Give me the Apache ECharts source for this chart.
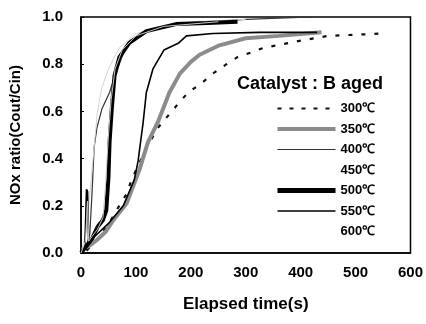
<!DOCTYPE html>
<html>
<head>
<meta charset="utf-8">
<script src="https://cdn.jsdelivr.net/npm/echarts@6/dist/echarts.min.js"></script>
<style>
  html, body { margin: 0; padding: 0; background: #fff; }
  #chart { width: 426px; height: 324px; }
</style>
</head>
<body>
<div id="chart"></div>
<script>
// elapsed time (s) / NOx ratio
const t300 = [10, 30, 50, 72, 83, 92, 110, 125, 140, 158, 176, 195, 220, 240, 265, 285, 310, 333, 357, 400, 450, 500, 550]
const v300 = [0.01, 0.06, 0.12, 0.21, 0.25, 0.31, 0.40, 0.47, 0.53, 0.58, 0.63, 0.68, 0.72, 0.76, 0.80, 0.83, 0.85, 0.87, 0.88, 0.90, 0.92, 0.925, 0.93]

const t350 = [5, 15, 29, 45, 59, 83, 106, 122, 141, 161, 180, 200, 216, 252, 300, 360, 438]
const v350 = [0.02, 0.03, 0.055, 0.09, 0.14, 0.21, 0.35, 0.47, 0.56, 0.68, 0.76, 0.81, 0.84, 0.88, 0.91, 0.92, 0.935]

const t400 = [0, 10, 16, 20, 24, 29, 38, 52, 60, 68, 78, 90, 110, 150, 200, 300, 420]
const v400 = [0, 0.03, 0.08, 0.25, 0.45, 0.53, 0.61, 0.68, 0.74, 0.79, 0.85, 0.90, 0.93, 0.96, 0.975, 0.99, 1.0]

const t450 = [0, 10, 20, 30, 38, 50, 70, 100, 150, 200, 300]
const v450 = [0, 0.1, 0.35, 0.6, 0.7, 0.78, 0.87, 0.93, 0.96, 0.98, 0.99]

const t500 = [0, 10, 20, 30, 40, 46, 50, 52, 56, 61, 70, 88, 119, 173, 230, 285]
const v500 = [0, 0.03, 0.06, 0.11, 0.14, 0.18, 0.32, 0.47, 0.61, 0.75, 0.83, 0.89, 0.94, 0.97, 0.975, 0.98]

const t550 = [0, 7, 10, 12, 14, 18, 25, 52, 77, 97, 104, 113, 119, 131, 151, 178, 192, 240, 324, 430]
const v550 = [0, 0.02, 0.27, 0.26, 0.04, 0.05, 0.07, 0.13, 0.2, 0.31, 0.39, 0.55, 0.68, 0.78, 0.86, 0.89, 0.92, 0.93, 0.935, 0.935]

const t600 = [0, 8, 12, 14, 20, 30, 40, 45, 50, 55, 62, 75, 100, 150, 250]
const v600 = [0, 0.05, 0.22, 0.05, 0.07, 0.1, 0.15, 0.3, 0.5, 0.65, 0.78, 0.86, 0.92, 0.96, 0.98]

const seriesNames = ['300℃', '350℃', '400℃', '450℃', '500℃', '550℃', '600℃']
const xTicks = [0, 100, 200, 300, 400, 500, 600]
const yTicks = [0.0, 0.2, 0.4, 0.6, 0.8, 1.0]

const font = 'Liberation Sans, Arial, sans-serif'

// legend line look, one per series (450 and 600 show no line in the legend)
const legendLines = [
  { color: '#111', width: 2, type: [4, 8] },
  { color: '#8c8c8c', width: 4 },
  { color: '#333', width: 1 },
  { opacity: 0 },
  { color: '#000', width: 5 },
  { color: '#000', width: 1.5 },
  { opacity: 0 }
]

function pairs(ts, vs) {
  return ts.map((t, i) => [t, vs[i]])
}

const chart = echarts.init(document.getElementById('chart'))

chart.setOption({
  animation: false,
  grid: {
    left: 80,
    right: 11,
    top: 17,
    bottom: 71,
    show: true,
    borderColor: '#000',
    borderWidth: 1.5
  },
  title: {
    text: 'Catalyst : B aged',
    left: 232,
    top: 70,
    textStyle: { fontFamily: font, fontWeight: 'bold', fontSize: 18, color: '#000' }
  },
  legend: {
    orient: 'vertical',
    left: 270,
    top: 97,
    itemWidth: 58,
    itemHeight: 13,
    itemGap: 7.5,
    itemStyle: { opacity: 0 },
    data: seriesNames.map((n, i) => ({ name: n, lineStyle: legendLines[i] })),
    textStyle: { fontFamily: font, fontWeight: 'bold', fontSize: 13, color: '#000' }
  },
  xAxis: {
    type: 'value',
    min: 0,
    max: 600,
    interval: 100,
    name: 'Elapsed time(s)',
    nameLocation: 'middle',
    nameGap: 43,
    nameTextStyle: { fontFamily: font, fontWeight: 'bold', fontSize: 17, color: '#000' },
    axisLine: { lineStyle: { color: '#000', width: 1.5 } },
    axisTick: { show: false },
    splitLine: { show: false },
    axisLabel: {
      margin: 12,
      fontFamily: font, fontWeight: 'bold', fontSize: 15, color: '#000',
      formatter: v => xTicks.includes(v) ? String(v) : ''
    }
  },
  yAxis: {
    type: 'value',
    min: 0,
    max: 1,
    interval: 0.2,
    name: 'NOx ratio(Cout/Cin)',
    nameLocation: 'middle',
    nameGap: 58,
    nameTextStyle: { fontFamily: font, fontWeight: 'bold', fontSize: 15, color: '#000' },
    axisLine: { lineStyle: { color: '#000', width: 1.5 } },
    axisTick: { inside: true, length: 3, lineStyle: { color: '#000' } },
    splitLine: { show: false },
    axisLabel: {
      margin: 18,
      fontFamily: font, fontWeight: 'bold', fontSize: 15, color: '#000',
      formatter: v => yTicks.some(y => Math.abs(y - v) < 1e-6) ? v.toFixed(1) : ''
    }
  },
  series: [
    {
      name: seriesNames[0], type: 'line', symbol: 'none',
      data: pairs(t300, v300),
      lineStyle: { color: '#111', width: 2.2, type: [4, 9] },
      itemStyle: { color: '#111' }
    },
    {
      name: seriesNames[1], type: 'line', symbol: 'none',
      data: pairs(t350, v350),
      lineStyle: { color: '#8c8c8c', width: 4 },
      itemStyle: { color: '#8c8c8c' }
    },
    {
      name: seriesNames[2], type: 'line', symbol: 'none',
      data: pairs(t400, v400),
      lineStyle: { color: '#333', width: 1.2 },
      itemStyle: { color: '#333' }
    },
    {
      name: seriesNames[3], type: 'line', symbol: 'none',
      data: pairs(t450, v450),
      lineStyle: { color: '#d4d4d4', width: 1 },
      itemStyle: { color: '#d4d4d4' }
    },
    {
      name: seriesNames[4], type: 'line', symbol: 'none',
      data: pairs(t500, v500),
      lineStyle: { color: '#000', width: 4 },
      itemStyle: { color: '#000' }
    },
    {
      name: seriesNames[5], type: 'line', symbol: 'none',
      data: pairs(t550, v550),
      lineStyle: { color: '#000', width: 1.6 },
      itemStyle: { color: '#000' }
    },
    {
      name: seriesNames[6], type: 'line', symbol: 'none',
      data: pairs(t600, v600),
      lineStyle: { color: '#c8c8c8', width: 1 },
      itemStyle: { color: '#c8c8c8' }
    }
  ]
})
</script>
</body>
</html>
